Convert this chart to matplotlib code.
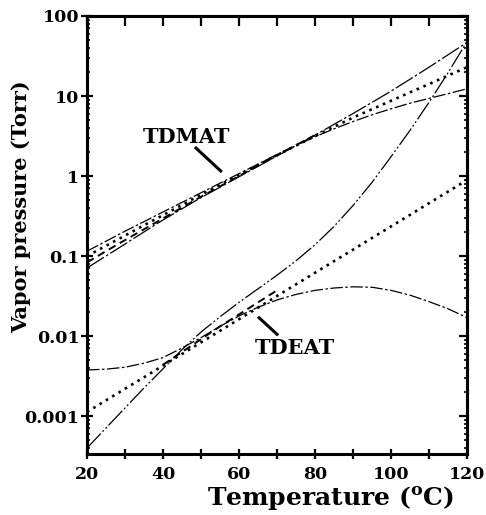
import matplotlib
matplotlib.use("Agg")
import matplotlib.pyplot as plt
from matplotlib.ticker import FixedLocator, FixedFormatter, LogLocator, NullFormatter

plt.rcParams["font.family"] = ["DejaVu Serif"]
plt.rcParams["font.weight"] = "bold"
plt.rcParams["mathtext.fontset"] = "dejavuserif"

# Temperature grid (deg C)
temps = [20, 25, 30, 35, 40, 45, 50, 55, 60, 65, 70,
         75, 80, 85, 90, 95, 100, 105, 110, 115, 120]
temps_short = [20, 25, 30, 35, 40, 45, 50, 55, 60, 65, 70, 75, 80]
temps_mid = [40, 45, 50, 55, 60, 65, 70]

# TDMAT vapour pressure curves (Torr)
tdmat_dashdot = [0.115, 0.153, 0.204, 0.269, 0.355, 0.468, 0.617, 0.813, 1.07, 1.41, 1.86,
                 2.40, 3.09, 3.89, 4.79, 5.82, 6.92, 8.13, 9.33, 10.7, 12.3]
tdmat_dotted = [0.100, 0.134, 0.180, 0.242, 0.324, 0.435, 0.582, 0.776, 1.035, 1.37, 1.82,
                2.40, 3.16, 4.12, 5.37, 6.84, 8.71, 11.1, 14.1, 18.0, 22.9]
tdmat_dashed = [0.0832, 0.115, 0.158, 0.216, 0.295, 0.403, 0.550, 0.741, 1.00, 1.35, 1.82,
                2.43, 3.24]
tdmat_longdash = [0.0708, 0.100, 0.141, 0.200, 0.282, 0.389, 0.537, 0.724, 0.977, 1.32, 1.78,
                  2.40, 3.24, 4.42, 6.03, 8.32, 11.5, 16.2, 22.9, 32.7, 46.8]

# TDEAT vapour pressure curves (Torr)
tdeat_dashdot = [0.00376, 0.00385, 0.00407, 0.00457, 0.00537, 0.00708, 0.00955, 0.0132,
                 0.0178, 0.0229, 0.0282, 0.0331, 0.0372, 0.0398, 0.0412, 0.0407, 0.0372,
                 0.0324, 0.0269, 0.0219, 0.0170]
tdeat_dotted = [0.00112, 0.00157, 0.00219, 0.00305, 0.00427, 0.00596, 0.00832, 0.0116,
                0.0162, 0.0226, 0.0316, 0.0442, 0.0617, 0.0861, 0.120, 0.168, 0.234,
                0.327, 0.457, 0.638, 0.891]
tdeat_longdash = [0.000398, 0.000708, 0.00126, 0.00224, 0.00389, 0.00676, 0.0112, 0.0174,
                  0.0263, 0.0389, 0.0575, 0.0871, 0.138, 0.234, 0.427, 0.832, 1.74,
                  3.72, 8.32, 19.5, 47.9]
tdeat_dashed = [0.00437, 0.00631, 0.00912, 0.0132, 0.0186, 0.0263, 0.0372]

y_ticks = [0.001, 0.01, 0.1, 1, 10, 100]
y_tick_labels = ["0.001", "0.01", "0.1", "1", "10", "100"]
x_ticks = [20, 40, 60, 80, 100, 120]
x_minor = [30, 50, 70, 90, 110]

fig = plt.figure(figsize=(4.86, 5.15), dpi=100)
ax = fig.add_axes([87 / 486, 1 - 454 / 515, 380 / 486, 438 / 515])

thin = dict(color="black", lw=0.9, solid_capstyle="butt", dash_capstyle="butt")
dots = dict(color="black", lw=1.9, dash_capstyle="butt")

ax.plot(temps, tdmat_dashdot, dashes=(10, 2, 2, 2), **thin)
ax.plot(temps, tdmat_dotted, dashes=(1, 1.8), **dots)
ax.plot(temps_short, tdmat_dashed, dashes=(4, 2.5), color="black", lw=1.4)
ax.plot(temps, tdmat_longdash, dashes=(16, 2, 2, 2), **thin)

ax.plot(temps, tdeat_dashdot, dashes=(10, 2, 2, 2), **thin)
ax.plot(temps, tdeat_dotted, dashes=(1, 1.8), **dots)
ax.plot(temps, tdeat_longdash, dashes=(16, 2, 1.5, 2, 1.5, 2), **thin)
ax.plot(temps_mid, tdeat_dashed, dashes=(4, 2.5), color="black", lw=1.4)

ax.set_yscale("log")
ax.set_xlim(20, 120)
ax.set_ylim(3.35e-4, 100)

ax.yaxis.set_major_locator(FixedLocator(y_ticks))
ax.yaxis.set_major_formatter(FixedFormatter(y_tick_labels))
ax.yaxis.set_minor_locator(LogLocator(base=10, subs=range(2, 10)))
ax.yaxis.set_minor_formatter(NullFormatter())
ax.xaxis.set_major_locator(FixedLocator(x_ticks))
ax.xaxis.set_minor_locator(FixedLocator(x_minor))

for s in ax.spines.values():
    s.set_linewidth(2.2)

ax.tick_params(axis="y", which="major", direction="inout", length=9, width=1.6,
               pad=1, labelsize=12.5)
ax.tick_params(axis="y", which="minor", direction="in", length=2.5, width=1.2)
ax.tick_params(axis="x", which="both", direction="inout", length=7, width=1.6,
               pad=5, labelsize=12.5)
for lab in ax.get_xticklabels() + ax.get_yticklabels():
    lab.set_fontweight("bold")

# ticks on the top and right frame edges
top = ax.secondary_xaxis("top")
top.xaxis.set_major_locator(FixedLocator(x_ticks + x_minor))
top.tick_params(direction="in", length=7, width=1.6, labeltop=False)
right = ax.secondary_yaxis("right")
right.yaxis.set_major_locator(FixedLocator(y_ticks))
right.yaxis.set_minor_locator(LogLocator(base=10, subs=range(2, 10)))
right.tick_params(which="major", direction="in", length=6, width=1.6, labelright=False)
right.tick_params(which="minor", direction="in", length=2.5, width=1.2, labelright=False)
for sec in (top, right):
    for s in sec.spines.values():
        s.set_linewidth(2.2)

# compound labels with pointer lines
ax.text(46.3, 3.1, "TDMAT", ha="center", va="center", fontsize=15, fontweight="bold")
ax.plot([48.4, 55.5], [2.3, 1.12], color="black", lw=2.2, solid_capstyle="butt")
ax.text(74.7, 0.0071, "TDEAT", ha="center", va="center", fontsize=15, fontweight="bold")
ax.plot([70.3, 65.0], [0.0102, 0.0174], color="black", lw=2.2, solid_capstyle="butt")

fig.text(330 / 486, 1 - 498 / 515, r"Temperature ($^{\mathbf{o}}$C)", ha="center",
         va="center", fontsize=18, fontweight="bold")
fig.text(21 / 486, 1 - 207 / 515, "Vapor pressure (Torr)", rotation=90, ha="center",
         va="center", fontsize=15, fontweight="bold")

fig.savefig("out.png", dpi=100)
